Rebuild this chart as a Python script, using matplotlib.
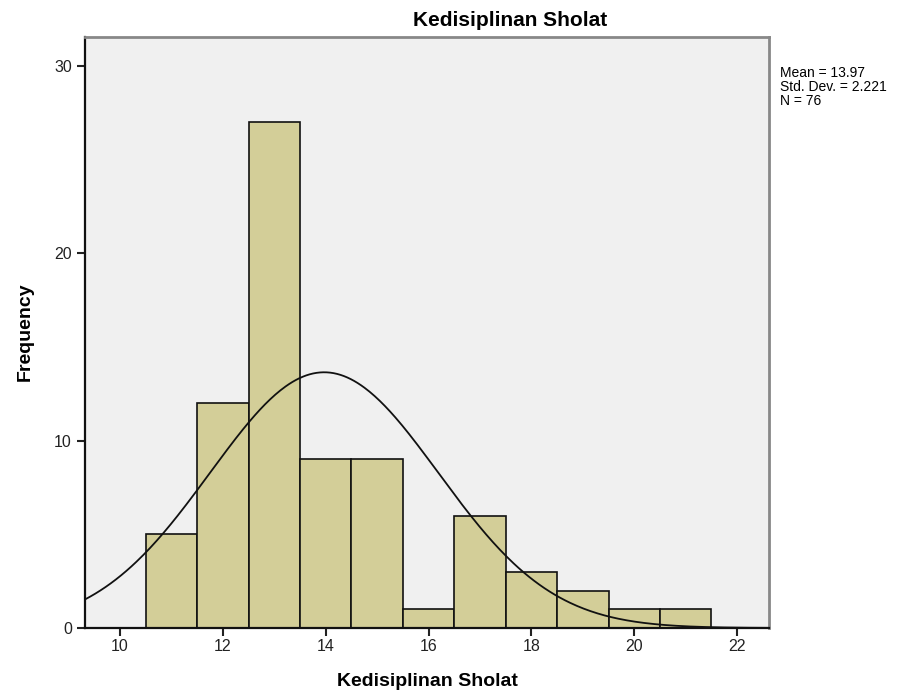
import matplotlib
matplotlib.use("Agg")
import matplotlib.pyplot as plt
import numpy as np

plt.rcParams["font.family"] = ["Liberation Sans", "DejaVu Sans"]

# bin edges / counts
bin_left = [10.5, 11.5, 12.5, 13.5, 14.5, 15.5, 16.5, 17.5, 18.5, 19.5, 20.5]
counts = [5, 12, 27, 9, 9, 1, 6, 3, 2, 1, 1]
mean_val = 13.97
sd_val = 2.221
n_val = 76
x_ticks = [10, 12, 14, 16, 18, 20, 22]
y_ticks = [0, 10, 20, 30]

C_BAR = "#D3CE98"
C_BG = "#F0F0F0"

fig = plt.figure(figsize=(9.21, 6.93), dpi=100)
ax = fig.add_axes([0.0923, 0.0938, 0.7427, 0.8528])
ax.set_facecolor(C_BG)

ax.bar(bin_left, counts, width=1.0, align="edge", color=C_BAR,
       edgecolor="#111111", linewidth=1.2, zorder=2)

# normal curve scaled to counts (bin width 1)
xs = np.linspace(9.32, 22.62, 400)
ys = n_val * 1.0 / (sd_val * np.sqrt(2 * np.pi)) * np.exp(-0.5 * ((xs - mean_val) / sd_val) ** 2)
ax.plot(xs, ys, color="#111111", linewidth=1.3, zorder=3)

ax.set_xlim(9.32, 22.62)
ax.set_ylim(0, 31.55)
ax.set_xticks(x_ticks)
ax.set_yticks(y_ticks)
ax.tick_params(axis="both", direction="out", length=6, width=1.5, labelsize=11.5,
               colors="#222222")
ax.tick_params(axis="x", pad=2)
for s in ("left", "bottom"):
    ax.spines[s].set_linewidth(1.6)
    ax.spines[s].set_color("#111111")
for s in ("top", "right"):
    ax.spines[s].set_linewidth(2.0)
    ax.spines[s].set_color("#888888")

fig.text(427 / 921, 1 - 681 / 693, "Kedisiplinan Sholat", fontsize=14,
         fontweight="bold", ha="center", va="center")
fig.text(25 / 921, 1 - 332 / 693, "Frequency", fontsize=14,
         fontweight="bold", ha="center", va="center", rotation=90)

fig.text(510 / 921, 1 - 20 / 693, "Kedisiplinan Sholat", fontsize=15,
         fontweight="bold", ha="center", va="center")
fig.text(780 / 921, 1 - 66 / 693,
         f"Mean = {mean_val:.2f}\nStd. Dev. = {sd_val:.3f}\nN = {n_val}",
         fontsize=10, ha="left", va="top", linespacing=1.0)

fig.savefig("out.png", dpi=100)
plt.close(fig)
